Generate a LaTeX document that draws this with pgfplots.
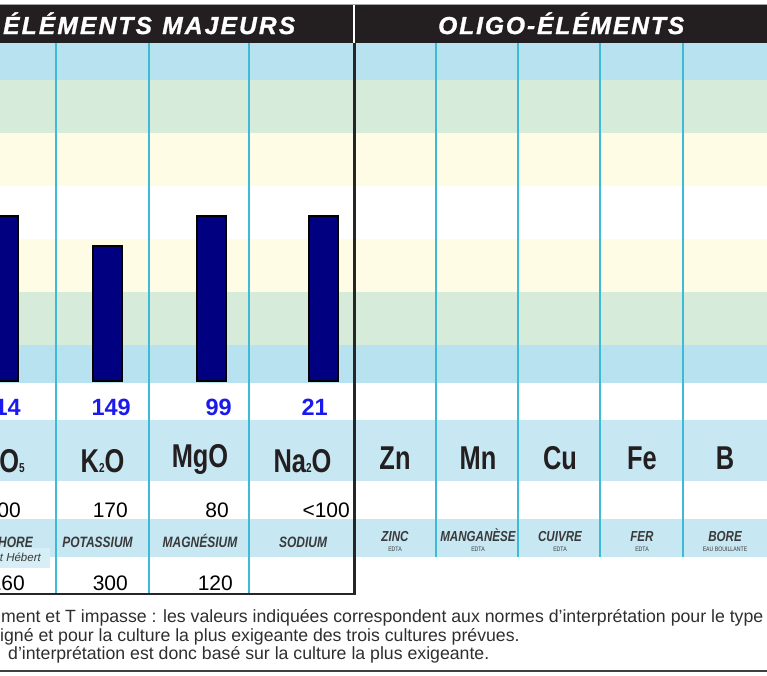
\documentclass[border=0pt]{standalone}
\usepackage{pgfplots}
\pgfplotsset{compat=1.18}
\usepackage{fontspec}
\setmainfont{Liberation Sans}
\newfontfamily\condf{Liberation Sans}[FakeStretch=0.77]
\newfontfamily\namef{Liberation Sans}[FakeStretch=0.8]
\newfontfamily\headf{Liberation Sans}[FakeBold=1.2]
\newcommand\fs[1]{\fontsize{#1}{#1}\selectfont}
\newcommand\sub[1]{{\fs{13}#1}}
\definecolor{headblack}{HTML}{231F20}
\definecolor{bandblue}{HTML}{B8E2F0}
\definecolor{bandgreen}{HTML}{D6EBDA}
\definecolor{bandyellow}{HTML}{FFFCE6}
\definecolor{rowblue}{HTML}{C7E7F2}
\definecolor{boxblue}{HTML}{D6EEF6}
\definecolor{cyanline}{HTML}{3CBAD8}
\definecolor{barnavy}{HTML}{000080}
\definecolor{valblue}{HTML}{1A1AEE}
\definecolor{textdark}{HTML}{231F20}
\definecolor{namegray}{HTML}{3A3A3A}
\definecolor{footgray}{HTML}{2E2E2E}
\tikzset{
  vl/.style={cyanline, line width=1.4pt},
  val/.style={anchor=base east, inner sep=0, text=valblue, font=\bfseries\fs{23.5}},
  num/.style={anchor=base east, inner sep=0, text=black, font=\fs{21}},
  form/.style={anchor=base, inner sep=0, text=textdark, font=\condf\bfseries\fs{33}},
  nm/.style={anchor=base, inner sep=0, text=namegray, font=\namef\bfseries\itshape\fs{15}},
  nmr/.style={anchor=base, inner sep=0, text=namegray, font=\namef\bfseries\itshape\fs{14.5}},
  nsub/.style={anchor=base, inner sep=0, text=namegray, font=\namef\fs{6.5}},
  foot/.style={anchor=base west, inner sep=0, text=footgray, font=\fs{17.7}},
}
\begin{document}
\begin{tikzpicture}
\useasboundingbox (0pt,-292pt) rectangle (767pt,383pt);
\clip (0pt,-292pt) rectangle (767pt,383pt);
\begin{axis}[
  at={(0pt,0pt)}, anchor=south west,
  scale only axis, width=767pt, height=340pt,
  xmin=0, xmax=767, ymin=-2, ymax=338,
  hide axis, clip=false,
]
% header
\fill[gray!70] (axis cs:0,377.5) rectangle (axis cs:767,376.5);
\fill[headblack] (axis cs:0,376.5) rectangle (axis cs:767,338.5);
\draw[white, line width=1.8pt] (axis cs:354,376.5) -- (axis cs:354,338.5);
\node[anchor=base west, inner sep=0, text=white] at (axis cs:3,347)
  {\headf\bfseries\itshape\fs{24.5}\makebox[292pt][s]{É\hfil L\hfil É\hfil M\hfil E\hfil N\hfil T\hfil S\hfil\hspace{6pt}\hfil M\hfil A\hfil J\hfil E\hfil U\hfil R\hfil S}};
\node[anchor=base west, inner sep=0, text=white] at (axis cs:438,347)
  {\headf\bfseries\itshape\fs{24.5}\makebox[246pt][s]{O\hfil L\hfil I\hfil G\hfil O\hfil -\hfil É\hfil L\hfil É\hfil M\hfil E\hfil N\hfil T\hfil S}};
% bands
\fill[bandblue] (axis cs:0,338.5) rectangle (axis cs:767,301);
\fill[bandgreen] (axis cs:0,301) rectangle (axis cs:767,248);
\fill[bandyellow] (axis cs:0,248) rectangle (axis cs:767,195);
\fill[bandyellow] (axis cs:0,142) rectangle (axis cs:767,89);
\fill[bandgreen] (axis cs:0,89) rectangle (axis cs:767,36);
\fill[bandblue] (axis cs:0,36) rectangle (axis cs:767,-2);
% table rows
\fill[rowblue] (axis cs:0,-39) rectangle (axis cs:767,-100);
\fill[rowblue] (axis cs:0,-138) rectangle (axis cs:767,-176);
\fill[boxblue] (axis cs:0,-167) rectangle (axis cs:50,-187);
% column lines
\draw[vl] (axis cs:56,338.5) -- (axis cs:56,-212);
\draw[vl] (axis cs:149,338.5) -- (axis cs:149,-212);
\draw[vl] (axis cs:249,338.5) -- (axis cs:249,-212);
\draw[vl] (axis cs:436,338.5) -- (axis cs:436,-176);
\draw[vl] (axis cs:518,338.5) -- (axis cs:518,-176);
\draw[vl] (axis cs:600,338.5) -- (axis cs:600,-176);
\draw[vl] (axis cs:683,338.5) -- (axis cs:683,-176);
% separators
\draw[black!85, line width=3pt] (axis cs:354.5,338.5) -- (axis cs:354.5,-213.5);
\draw[black!85, line width=2pt] (axis cs:0,-212.5) -- (axis cs:356,-212.5);
% bars
\addplot[ybar, bar width=29pt, fill=barnavy, draw=black, line width=1.5pt]
  coordinates {(3.5,165) (107.5,135) (211.5,165) (323.5,165)};
% values row
\node[val] at (axis cs:21,-34) {114};
\node[val] at (axis cs:131,-34) {149};
\node[val] at (axis cs:232,-34) {99};
\node[val] at (axis cs:328,-34) {21};
% formulas
\node[form, anchor=base east] at (axis cs:25,-91) {P\sub{2}O\sub{5}};
\node[form] at (axis cs:102.5,-91) {K\sub{2}O};
\node[form] at (axis cs:200,-86) {MgO};
\node[form] at (axis cs:302.5,-91) {Na\sub{2}O};
\node[form] at (axis cs:395,-88) {Zn};
\node[form] at (axis cs:478,-88) {Mn};
\node[form] at (axis cs:560,-88) {Cu};
\node[form] at (axis cs:642,-88) {Fe};
\node[form] at (axis cs:725,-88) {B};
% reference values row
\node[num] at (axis cs:21,-136) {100};
\node[num] at (axis cs:128,-136) {170};
\node[num] at (axis cs:229,-136) {80};
\node[num] at (axis cs:350,-136) {<100};
% names
\node[nm, anchor=base east] at (axis cs:33,-166) {PHOSPHORE};
\node[nm] at (axis cs:97.5,-166) {POTASSIUM};
\node[nm] at (axis cs:200,-166) {MAGNÉSIUM};
\node[nm] at (axis cs:303,-166) {SODIUM};
\node[anchor=base east, inner sep=0, text=namegray, font=\itshape\fs{11.5}] at (axis cs:41,-180) {Joret Hébert};
\node[nmr] at (axis cs:395,-160) {ZINC};
\node[nmr] at (axis cs:478,-160) {MANGANÈSE};
\node[nmr] at (axis cs:560,-160) {CUIVRE};
\node[nmr] at (axis cs:642,-160) {FER};
\node[nmr] at (axis cs:725,-160) {BORE};
\node[nsub] at (axis cs:395,-170) {EDTA};
\node[nsub] at (axis cs:478,-170) {EDTA};
\node[nsub] at (axis cs:560,-170) {EDTA};
\node[nsub] at (axis cs:642,-170) {EDTA};
\node[nsub] at (axis cs:725,-170) {EAU BOUILLANTE};
% lower values row
\node[num] at (axis cs:25,-209) {160};
\node[num] at (axis cs:128,-209) {300};
\node[num] at (axis cs:233,-209) {120};
% footnote
\node[foot] at (axis cs:1,-241) {ment et T impasse : les valeurs indiquées correspondent aux normes d’interprétation pour le type};
\node[foot] at (axis cs:0,-260) {igné et pour la culture la plus exigeante des trois cultures prévues.};
\node[foot] at (axis cs:8,-278) {d’interprétation est donc basé sur la culture la plus exigeante.};
\draw[black!75, line width=2.5pt] (axis cs:0,-290) -- (axis cs:767,-290);
\end{axis}
\end{tikzpicture}
\end{document}
